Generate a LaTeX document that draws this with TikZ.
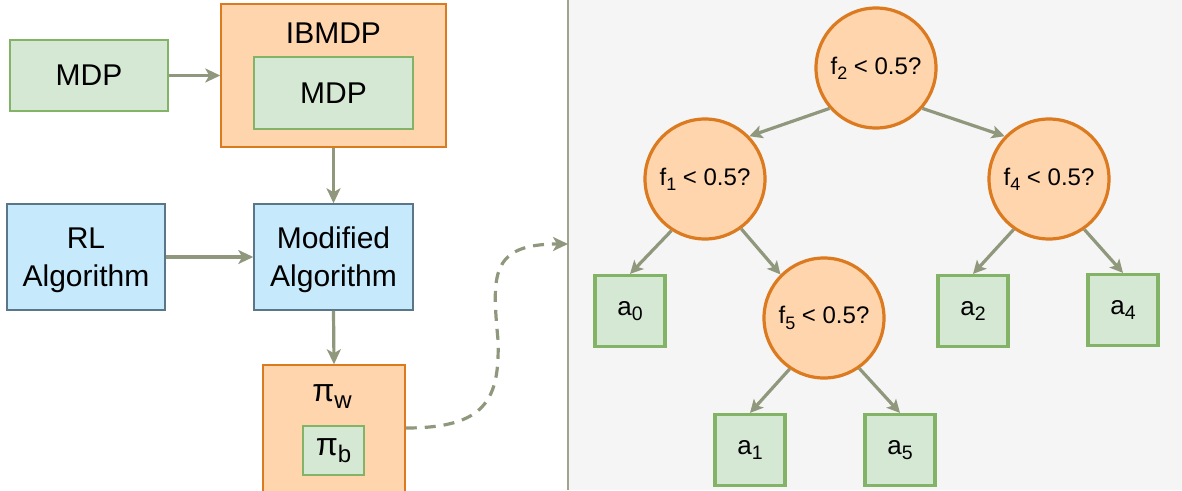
\documentclass[tikz,border=0pt]{standalone}
\usepackage{fontspec}
\setmainfont{Liberation Sans}
\usetikzlibrary{arrows.meta}
\definecolor{leafgreen}{HTML}{D5E8D4}
\definecolor{leafedge}{HTML}{82B366}
\definecolor{peach}{HTML}{FFD5AE}
\definecolor{peachedge}{HTML}{DB7A1E}
\definecolor{skyfill}{HTML}{C6E9FB}
\definecolor{skyedge}{HTML}{5A7689}
\definecolor{linkgray}{HTML}{8F977C}
\definecolor{panelbg}{HTML}{F5F5F5}
\definecolor{rulegray}{HTML}{A0A48E}
% lowered, reduced index (f_2, a_0, pi_w ...)
\newcommand\lowsub[1]{\raisebox{-0.22em}{\scalebox{0.75}{#1}}}

\begin{document}
\begin{tikzpicture}[x=1pt,y=-1pt,
  big/.style={font=\fontsize{30}{38}\selectfont},
  small/.style={font=\fontsize{24}{29}\selectfont},
  box/.style={draw, line width=1.5pt, inner sep=0pt, align=center, big},
  greenbox/.style={box, fill=leafgreen, draw=leafedge},
  peachbox/.style={box, fill=peach, draw=peachedge},
  bluebox/.style={box, fill=skyfill, draw=skyedge, text depth=0pt},
  test/.style={circle, draw=peachedge, fill=peach, line width=3.2pt,
    minimum size=120pt, inner sep=0pt, small},
  leaf/.style={rectangle, draw=leafedge, fill=leafgreen, line width=3.2pt,
    minimum width=70pt, minimum height=71pt, inner sep=0pt,
    font=\fontsize{26}{30}\selectfont},
  flow/.style={draw=linkgray, line width=3.2pt,
    -{Stealth[length=15pt,width=14pt,inset=4pt]}},
  branch/.style={draw=linkgray, line width=3.2pt,
    -{Stealth[length=13pt,width=13pt,inset=3pt]}},
]
\useasboundingbox (0,0) rectangle (1182,490);
\clip (0,0) rectangle (1182,490);

% right panel
\fill[panelbg] (568,0) rectangle (1182,490);
\draw[rulegray, line width=2pt] (568,0) -- (568,490);

% ---- pipeline ----
\node[greenbox, minimum width=158pt, minimum height=71pt] (mdp) at (89,75.5) {MDP};
\node[peachbox, minimum width=225pt, minimum height=143pt] (ibmdp) at (333.5,75.5) {};
\node[big] (ibmdpT) at (333.5,33) {IBMDP};
\node[greenbox, minimum width=159pt, minimum height=72pt] (mdpin) at (333.5,93) {MDP};

\node[bluebox, minimum width=158pt, minimum height=106pt] (rl) at (86,257) {RL\\Algorithm};
\node[bluebox, minimum width=159pt, minimum height=106pt] (mod) at (333.5,257) {Modified\\Algorithm};

\node[peachbox, minimum width=142pt, minimum height=135pt] (piw) at (334,432.5) {};
\node[font=\fontsize{32}{38}\selectfont] (piwT) at (332,397) {π\lowsub{w}};
\node[greenbox, line width=2pt, minimum width=61pt, minimum height=49pt,
      font=\fontsize{32}{38}\selectfont] (pib) at (333.5,450.5) {π\lowsub{b}};

\draw[flow] (mdp.east) -- (ibmdp.west |- mdp.east);
\draw[flow] (ibmdp.south) -- (mod.north);
\draw[flow] (rl.east) -- (mod.west);
\draw[flow] (mod.south) -- (piw.north);

\coordinate (panelin) at (568,244);
\draw[draw=linkgray, line width=3.2pt, dash pattern=on 11pt off 8pt,
      -{Stealth[length=15pt,width=14pt,inset=4pt]}]
  ([yshift=4.5pt]piw.east) .. controls (485,428) and (500,400) .. (498,340)
  .. controls (492,275) and (490,244) .. (panelin);

% ---- decision tree ----
\node[test] (root) at (876,68)  {f\lowsub{2} < 0.5?};
\node[test] (f1)   at (705,179) {f\lowsub{1} < 0.5?};
\node[test] (f4)   at (1049,179) {f\lowsub{4} < 0.5?};
\node[test] (f5)   at (824,318) {f\lowsub{5} < 0.5?};

\node[leaf] (a0) at (630,311) {a\lowsub{0}};
\node[leaf] (a2) at (973,311) {a\lowsub{2}};
\node[leaf] (a4) at (1123,310) {a\lowsub{4}};
\node[leaf] (a1) at (750,450) {a\lowsub{1}};
\node[leaf] (a5) at (900,450) {a\lowsub{5}};

\draw[branch] (root.221) -- (f1.44);
\draw[branch] (root.319) -- (f4.136);
\draw[branch] (f1.237) -- (a0.north);
\draw[branch] (f1.306) -- (f5.135);
\draw[branch] (f4.235) -- (a2.north);
\draw[branch] (f4.305) -- (a4.north);
\draw[branch] (f5.236) -- (a1.north);
\draw[branch] (f5.305) -- (a5.north);
\end{tikzpicture}
\end{document}
